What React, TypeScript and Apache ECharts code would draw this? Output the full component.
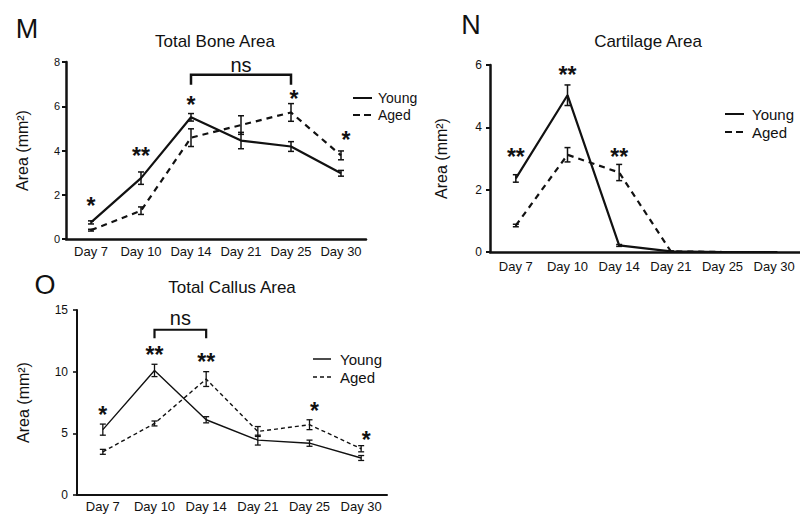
import React, { useEffect, useRef } from "react";
import * as echarts from "echarts";

const days = ["Day 7", "Day 10", "Day 14", "Day 21", "Day 25", "Day 30"];

// Panel M: Total Bone Area
const boneYoung = [0.75, 2.75, 5.5, 4.45, 4.18, 2.97];
const boneYoungErr = [0.07, 0.28, 0.17, 0.37, 0.22, 0.13];
const boneAged = [0.4, 1.28, 4.58, 5.15, 5.72, 3.78];
const boneAgedErr = [0.04, 0.17, 0.4, 0.42, 0.4, 0.2];
const boneStars: [number, number, string, number][] = [
  [0, 1.63, "*", 0],
  [1, 3.9, "**", 0],
  [2, 6.2, "*", 0],
  [4, 6.47, "*", 3],
  [5, 4.6, "*", 5],
];
const boneBracket = [2, 4, 7.42, 6.97, 7.87];

// Panel N: Cartilage Area
const cartYoung = [2.36, 5.03, 0.21, 0.02, 0, 0];
const cartYoungErr = [0.12, 0.33, 0.03, 0.01, 0, 0];
const cartAged = [0.85, 3.12, 2.55, 0.02, 0, 0];
const cartAgedErr = [0.04, 0.23, 0.26, 0.01, 0, 0];
const cartStars: [number, number, string, number][] = [
  [0, 3.15, "**", 0],
  [1, 5.77, "**", 0],
  [2, 3.15, "**", 0],
];

// Panel O: Total Callus Area
const callYoung = [5.3, 10.1, 6.1, 4.45, 4.2, 3.0];
const callYoungErr = [0.45, 0.5, 0.25, 0.4, 0.25, 0.2];
const callAged = [3.5, 5.8, 9.4, 5.15, 5.7, 3.75];
const callAgedErr = [0.2, 0.2, 0.6, 0.4, 0.4, 0.25];
const callStars: [number, number, string, number][] = [
  [0, 6.75, "*", 0],
  [1, 11.6, "**", 0],
  [2, 11.0, "**", 0],
  [4, 7.05, "*", 5],
  [5, 4.7, "*", 5],
];
const callBracket = [1, 2, 13.4, 12.7, 14.35];

const FONT = "Liberation Sans";
const INK = "#111";

function errData(v: number[], e: number[]) {
  return v.map((m, i) => [i, m - e[i], m + e[i]]);
}

function errSeries(idx: number, v: number[], e: number[], w: number) {
  return {
    type: "custom",
    xAxisIndex: idx,
    yAxisIndex: idx,
    data: errData(v, e),
    encode: { x: 0, y: [1, 2] },
    z: 5,
    renderItem: (params: any, api: any) => {
      const i = api.value(0);
      const lo = api.coord([i, api.value(1)]);
      const hi = api.coord([i, api.value(2)]);
      const c = 3;
      const st = { stroke: INK, lineWidth: w };
      return {
        type: "group",
        children: [
          { type: "line", shape: { x1: lo[0], y1: lo[1], x2: hi[0], y2: hi[1] }, style: st },
          { type: "line", shape: { x1: lo[0] - c, y1: lo[1], x2: lo[0] + c, y2: lo[1] }, style: st },
          { type: "line", shape: { x1: hi[0] - c, y1: hi[1], x2: hi[0] + c, y2: hi[1] }, style: st },
        ],
      };
    },
  };
}

function starSeries(idx: number, stars: [number, number, string, number][], size: number) {
  return {
    type: "custom",
    xAxisIndex: idx,
    yAxisIndex: idx,
    data: stars.map((s) => [s[0], s[1]]),
    z: 6,
    renderItem: (params: any, api: any) => {
      const s = stars[params.dataIndex];
      const p = api.coord([s[0], s[1]]);
      return {
        type: "text",
        x: p[0] + s[3],
        y: p[1] + 3,
        style: {
          text: s[2],
          fontSize: size,
          fontFamily: FONT,
          fontWeight: "bold",
          fill: INK,
          align: "center",
          verticalAlign: "middle",
        },
      };
    },
  };
}

function bracketSeries(idx: number, b: number[], w: number) {
  return {
    type: "custom",
    xAxisIndex: idx,
    yAxisIndex: idx,
    data: [[b[0], b[2]]],
    z: 6,
    renderItem: (params: any, api: any) => {
      const a = api.coord([b[0], b[2]]);
      const c = api.coord([b[1], b[2]]);
      const t = api.coord([b[0], b[3]]);
      const n = api.coord([(b[0] + b[1]) / 2, b[4]]);
      return {
        type: "group",
        children: [
          {
            type: "polyline",
            shape: { points: [[a[0], t[1]], [a[0], a[1]], [c[0], c[1]], [c[0], t[1]]] },
            style: { stroke: INK, lineWidth: w, fill: null },
          },
          {
            type: "text",
            x: (a[0] + c[0]) / 2,
            y: n[1],
            style: {
              text: "ns",
              fontSize: 20,
              fontFamily: FONT,
              fill: INK,
              align: "center",
              verticalAlign: "middle",
            },
          },
        ],
      };
    },
  };
}

function lineSeries(idx: number, name: string, v: number[], w: number, dash: any) {
  return {
    type: "line",
    name,
    xAxisIndex: idx,
    yAxisIndex: idx,
    data: v,
    symbol: "none",
    z: 4,
    lineStyle: { color: INK, width: w, type: dash },
  };
}

function xAx(idx: number, w: number, fs: number, margin: number) {
  return {
    type: "category",
    gridIndex: idx,
    data: days,
    boundaryGap: true,
    axisLine: { lineStyle: { color: INK, width: w } },
    axisTick: { alignWithLabel: true, length: 5, lineStyle: { color: INK, width: w * 0.8 } },
    axisLabel: { color: INK, fontSize: fs, fontFamily: FONT, margin, interval: 0 },
    splitLine: { show: false },
  };
}

function yAx(idx: number, max: number, interval: number, w: number, fs: number, margin: number, gap: number) {
  return {
    type: "value",
    gridIndex: idx,
    min: 0,
    max,
    interval,
    name: "Area (mm²)",
    nameLocation: "middle",
    nameRotate: 90,
    nameGap: gap,
    nameTextStyle: { color: INK, fontSize: 16, fontFamily: FONT },
    axisLine: { show: true, lineStyle: { color: INK, width: w } },
    axisTick: { show: true, length: 4, lineStyle: { color: INK, width: w * 0.8 } },
    axisLabel: { color: INK, fontSize: fs, fontFamily: FONT, margin },
    splitLine: { show: false },
  };
}

function txt(x: number, y: number, text: string, size: number, align = "left") {
  return {
    type: "text",
    x,
    y,
    style: { text, fontSize: size, fontFamily: FONT, fill: INK, align, verticalAlign: "middle" },
  };
}

function legendLine(x1: number, x2: number, y: number, w: number, dash: any) {
  return {
    type: "line",
    shape: { x1, y1: y, x2, y2: y },
    style: { stroke: INK, lineWidth: w, lineDash: dash },
  };
}

export default function App() {
  const ref = useRef<HTMLDivElement>(null);
  useEffect(() => {
    if (!ref.current) return;
    const chart = echarts.init(ref.current, null, { renderer: "svg" });
    chart.setOption({
      animation: false,
      backgroundColor: "#fff",
      grid: [
        { left: 66, top: 62, width: 300, height: 177 },
        { left: 490, top: 65, width: 316, height: 187 },
        { left: 77, top: 310, width: 310, height: 185 },
      ],
      xAxis: [xAx(0, 2.5, 13, 6), xAx(1, 2.5, 13, 8), xAx(2, 2, 13, 5)],
      yAxis: [
        yAx(0, 8, 2, 2.5, 11, 6, 36),
        yAx(1, 6, 2, 2.5, 12, 8, 41),
        yAx(2, 15, 5, 2, 12, 9, 46),
      ],
      series: [
        lineSeries(0, "Young", boneYoung, 2.2, "solid"),
        lineSeries(0, "Aged", boneAged, 2.2, [6, 5]),
        errSeries(0, boneYoung, boneYoungErr, 1.5),
        errSeries(0, boneAged, boneAgedErr, 1.5),
        starSeries(0, boneStars, 23),
        bracketSeries(0, boneBracket, 2.5),

        lineSeries(1, "Young", cartYoung, 2.2, "solid"),
        lineSeries(1, "Aged", cartAged, 2.2, [6, 5]),
        errSeries(1, cartYoung, cartYoungErr, 1.5),
        errSeries(1, cartAged, cartAgedErr, 1.5),
        starSeries(1, cartStars, 23),

        lineSeries(2, "Young", callYoung, 1.4, "solid"),
        lineSeries(2, "Aged", callAged, 1.4, [4, 3]),
        errSeries(2, callYoung, callYoungErr, 1.3),
        errSeries(2, callAged, callAgedErr, 1.3),
        starSeries(2, callStars, 23),
        bracketSeries(2, callBracket, 2.2),
      ],
      graphic: [
        txt(27, 29, "M", 27, "center"),
        txt(471, 25, "N", 27, "center"),
        txt(45, 285, "O", 27, "center"),
        txt(215, 41, "Total Bone Area", 17, "center"),
        txt(648, 41, "Cartilage Area", 17, "center"),
        txt(232, 287, "Total Callus Area", 17, "center"),
        legendLine(353, 372, 98, 2, null),
        legendLine(353, 372, 115, 2, [7, 4]),
        txt(378, 98, "Young", 14),
        txt(378, 115, "Aged", 14),
        legendLine(725, 744, 114, 2, null),
        legendLine(725, 744, 132, 2, [7, 4]),
        txt(752, 114, "Young", 15),
        txt(752, 132, "Aged", 15),
        legendLine(313, 331, 359, 1.5, null),
        legendLine(313, 331, 377, 1.5, [4, 3]),
        txt(340, 359, "Young", 15),
        txt(340, 377, "Aged", 15),
      ],
    });
    return () => chart.dispose();
  }, []);
  return (
    <div
      ref={ref}
      style={{ position: "fixed", left: 0, top: 0, width: 800, height: 514, background: "#fff" }}
    />
  );
}
